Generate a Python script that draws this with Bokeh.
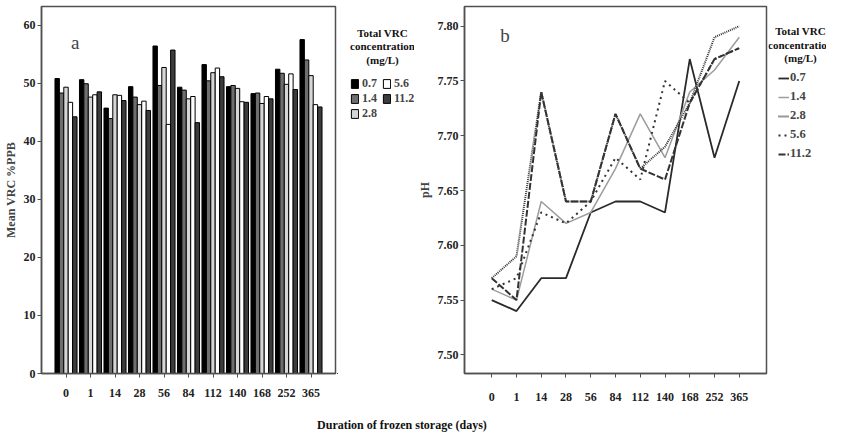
from bokeh.plotting import figure
from bokeh.models import (ColumnDataSource, FactorRange, Legend, LegendItem, Label, Div,
                          FixedTicker, NumeralTickFormatter)
from bokeh.transform import dodge
from bokeh.layouts import row, column
from bokeh.embed import file_html
from bokeh.resources import INLINE

# ---------------- data ----------------
days = ["0", "1", "14", "28", "56", "84", "112", "140", "168", "252", "365"]
conc = ["0.7", "1.4", "2.8", "5.6", "11.2"]

vrc_07 = [50.8, 50.6, 45.7, 49.4, 56.4, 49.3, 53.2, 49.4, 48.2, 52.4, 57.5]
vrc_14 = [48.3, 49.9, 43.9, 47.6, 49.6, 48.8, 50.4, 49.6, 48.3, 51.7, 54.0]
vrc_28 = [49.3, 47.6, 48.0, 46.3, 52.7, 47.3, 51.8, 49.1, 46.5, 49.8, 51.3]
vrc_56 = [46.7, 48.0, 47.9, 46.9, 42.9, 47.7, 52.6, 46.8, 47.7, 51.6, 46.3]
vrc_112 = [44.2, 48.5, 47.0, 45.3, 55.7, 43.2, 51.1, 46.7, 47.3, 48.9, 45.9]

ph_07 = [7.55, 7.54, 7.57, 7.57, 7.63, 7.64, 7.64, 7.63, 7.77, 7.68, 7.75]
ph_14 = [7.56, 7.55, 7.64, 7.62, 7.63, 7.67, 7.72, 7.68, 7.74, 7.76, 7.79]
ph_28 = [7.57, 7.59, 7.74, 7.64, 7.64, 7.72, 7.67, 7.69, 7.73, 7.79, 7.80]
ph_56 = [7.56, 7.57, 7.63, 7.62, 7.64, 7.68, 7.66, 7.75, 7.73, 7.77, 7.78]
ph_112 = [7.57, 7.55, 7.74, 7.64, 7.64, 7.72, 7.67, 7.66, 7.73, 7.77, 7.78]

vrc_ticks = [0, 10, 20, 30, 40, 50, 60]
ph_ticks = [7.50, 7.55, 7.60, 7.65, 7.70, 7.75, 7.80]

legend_title = "Total VRC\nconcentration\n(mg/L)"
xlabel = "Duration of frozen storage (days)"

# ---------------- style ----------------
FONT = "Liberation Serif"
AX = "#505050"
H = 412

def style_axes(p, xstand):
    p.xgrid.visible = False
    p.ygrid.visible = False
    p.outline_line_color = AX
    p.outline_line_width = 1.5
    p.outline_line_alpha = 1
    for ax in (p.xaxis, p.yaxis):
        ax.axis_line_color = AX
        ax.axis_line_width = 1.5
        ax.major_tick_line_color = AX
        ax.major_tick_in = 0
        ax.major_tick_out = 4
        ax.minor_tick_line_color = None
        ax.major_label_text_font = FONT
        ax.major_label_text_font_size = "12px"
        ax.major_label_text_font_style = "bold"
        ax.major_label_text_color = "#222222"
        ax.major_label_standoff = 2
        ax.axis_label_text_font = FONT
        ax.axis_label_text_font_size = "12px"
        ax.axis_label_text_font_style = "bold"
        ax.axis_label_standoff = 3
    p.xaxis.major_label_standoff = xstand

def legend_fig(w):
    f = figure(width=w, height=H, x_range=(0, w), y_range=(0, H),
               x_axis_type=None, y_axis_type=None, output_backend="svg",
               toolbar_location=None, min_border=0)
    f.outline_line_color = None
    return f

def style_legend(leg, size):
    leg.label_text_font = FONT
    leg.label_text_font_size = size
    leg.label_text_font_style = "bold"
    leg.label_text_baseline = "middle"
    leg.padding = 0
    leg.margin = 0
    leg.border_line_color = None
    leg.background_fill_alpha = 0

def title_label(x, y, size):
    return Label(x=x, y=y, text=legend_title, text_align="center", text_baseline="top",
                 text_font=FONT, text_font_size=size, text_font_style="bold",
                 text_line_height=1.12, text_color="#111111")

# ---------------- (a) bar chart ----------------
Y1_MAX = 63.2
p1 = figure(width=337, height=H,
            x_range=FactorRange(*days, range_padding=0.5, range_padding_units="absolute"),
            y_range=(0, Y1_MAX), output_backend="svg", toolbar_location=None,
            min_border_left=36, min_border_right=2, min_border_top=6, min_border_bottom=36)
style_axes(p1, 11)
p1.yaxis.ticker = FixedTicker(ticks=vrc_ticks)
p1.yaxis.axis_label = "Mean VRC %PPB"

src1 = ColumnDataSource(dict(day=days, c07=vrc_07, c14=vrc_14, c28=vrc_28, c56=vrc_56, c112=vrc_112))
bar_cols = ["c07", "c14", "c28", "c56", "c112"]
bar_fill = ["#000000", "#6e6e6e", "#d6d6d6", "#ffffff", "#3c3c3c"]
bw = 0.18
offsets = [-2 * bw, -bw, 0, bw, 2 * bw]
for col, fc, off in zip(bar_cols, bar_fill, offsets):
    p1.vbar(x=dodge("day", off, range=p1.x_range), top=col, bottom=0, width=bw,
            source=src1, fill_color=fc, line_color="#000000", line_width=1)

def x1(px):  # pixel offset from frame left -> synthetic x
    return -0.5 + px * 12 / 299

def y1(px):  # pixel offset from frame top -> data y
    return Y1_MAX - px * Y1_MAX / 370

p1.add_layout(Label(x=x1(30), y=y1(36), text="a", text_align="left", text_baseline="alphabetic",
                    text_font=FONT, text_font_size="19px"))

# legend (a) -- swatches only (one off-screen point so the legend can draw them)
la = legend_fig(77)
a_items = []
for fc, lab in zip(bar_fill, conc):
    r = la.vbar(x=[-100], top=[-100], width=1, fill_color=fc, line_color="#000000", line_width=1)
    a_items.append(LegendItem(label=lab, renderers=[r]))
leg1 = Legend(items=a_items, location=(13, 252), nrows=3,
              glyph_width=9, glyph_height=11, label_height=12, label_width=20,
              label_standoff=3, spacing=-4)
style_legend(leg1, "12px")
la.add_layout(leg1)
la.add_layout(title_label(45, H - 23, "11px"))

# ---------------- (b) line chart ----------------
Y2_MIN, Y2_MAX = 7.483, 7.818
p2 = figure(width=354, height=H,
            x_range=FactorRange(*days, range_padding=0.6, range_padding_units="absolute"),
            y_range=(Y2_MIN, Y2_MAX), output_backend="svg", toolbar_location=None,
            min_border_left=47, min_border_right=2, min_border_top=1, min_border_bottom=39)
style_axes(p2, 15)
p2.yaxis.ticker = FixedTicker(ticks=ph_ticks)
p2.yaxis.formatter = NumeralTickFormatter(format="0.00")
p2.yaxis.axis_label = "pH"

series = [ph_07, ph_14, ph_28, ph_56, ph_112]
line_col = ["#2a2a2a", "#9c9c9c", "#333333", "#333333", "#333333"]
line_w = [1.8, 1.5, 2.0, 2.0, 2.0]
line_dash = ["solid", "solid", "1 1", "2 4", "7 2"]
for ys, lc, lw, ld in zip(series, line_col, line_w, line_dash):
    p2.line(x=days, y=ys, line_color=lc, line_width=lw, line_dash=ld)

def x2(px):
    return -0.6 + px * 12.2 / 305

def y2(px):
    return Y2_MAX - px * (Y2_MAX - Y2_MIN) / 372

p2.add_layout(Label(x=x2(36), y=y2(29), text="b", text_align="left", text_baseline="alphabetic",
                    text_font=FONT, text_font_size="19px"))

# legend (b)
lb = legend_fig(58)
b_items = []
for lc, lw, ld, lab in zip(line_col, line_w, line_dash, conc):
    r = lb.line(x=[-100, -99], y=[-100, -100], line_color=lc, line_width=lw, line_dash=ld)
    b_items.append(LegendItem(label=lab, renderers=[r]))
leg2 = Legend(items=b_items, location=(10, 212),
              glyph_width=11, glyph_height=14, label_height=14, label_width=16,
              label_standoff=1, spacing=4)
style_legend(leg2, "12.5px")
lb.add_layout(leg2)
lb.add_layout(title_label(32, H - 21, "11px"))

# ---------------- shared x label ----------------
div = Div(text=xlabel, width=794, height=16,
          styles={"font-family": FONT, "font-weight": "bold", "font-size": "12px",
                  "text-align": "center", "line-height": "16px", "color": "#111111"})

layout = column(row(p1, la, p2, lb), div)
open("out.html", "w").write(file_html(layout, INLINE))
